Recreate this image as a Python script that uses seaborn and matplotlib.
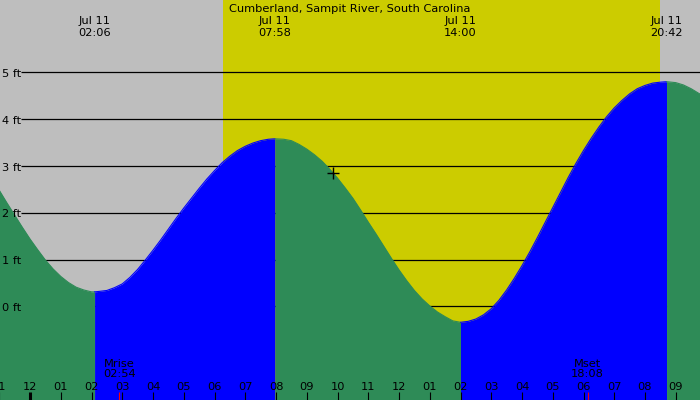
import numpy as np
import pandas as pd
import matplotlib
matplotlib.use("Agg")
import matplotlib.pyplot as plt
import matplotlib.transforms as mtransforms
import seaborn as sns

# Estilo
sns.set_theme(style="white")
plt.rcParams["font.family"] = ["DejaVu Sans"]
plt.rcParams["font.size"] = 8.2
plt.rcParams["text.color"] = "black"

# Dados (horas desde 00:00 de Jul 11, altura em pés)
titulo = "Cumberland, Sampit River, South Carolina"
horas = [-1.0, -0.75, -0.5, -0.25, 0.0, 0.25, 0.5, 0.75, 1.0, 1.25, 1.5, 1.75,
         2.0, 2.1, 2.25, 2.5, 2.75, 3.0, 3.25, 3.5, 3.75, 4.0, 4.25, 4.5, 4.75,
         5.0, 5.25, 5.5, 5.75, 6.0, 6.25, 6.5, 6.75, 7.0, 7.25, 7.5, 7.75, 7.967,
         8.25, 8.5, 8.75, 9.0, 9.25, 9.5, 9.75, 10.0, 10.25, 10.5, 10.75, 11.0,
         11.25, 11.5, 11.75, 12.0, 12.25, 12.5, 12.75, 13.0, 13.25, 13.5, 13.75,
         14.0, 14.25, 14.5, 14.75, 15.0, 15.25, 15.5, 15.75, 16.0, 16.25, 16.5,
         16.75, 17.0, 17.25, 17.5, 17.75, 18.0, 18.25, 18.5, 18.75, 19.0, 19.25,
         19.5, 19.75, 20.0, 20.25, 20.5, 20.7, 21.0, 21.25, 21.5, 21.75, 21.85]
alturas = [2.48, 2.21, 1.95, 1.69, 1.44, 1.21, 0.99, 0.80, 0.64, 0.51, 0.41, 0.35,
           0.31, 0.31, 0.32, 0.34, 0.40, 0.48, 0.62, 0.79, 0.99, 1.20, 1.42, 1.65,
           1.88, 2.10, 2.31, 2.52, 2.72, 2.90, 3.07, 3.21, 3.33, 3.42, 3.49, 3.54,
           3.57, 3.58, 3.57, 3.54, 3.46, 3.36, 3.24, 3.10, 2.93, 2.74, 2.53, 2.31,
           2.06, 1.80, 1.55, 1.29, 1.03, 0.78, 0.55, 0.34, 0.16, 0.01, -0.12, -0.22,
           -0.31, -0.34, -0.32, -0.27, -0.18, -0.05, 0.13, 0.35, 0.60, 0.87, 1.16,
           1.47, 1.79, 2.11, 2.43, 2.75, 3.05, 3.33, 3.59, 3.83, 4.05, 4.24, 4.40,
           4.54, 4.65, 4.72, 4.77, 4.79, 4.80, 4.78, 4.73, 4.65, 4.55, 4.52]

# Preamares / baixa-mares
ext_horas = [2.1, 7.967, 14.0, 20.7]
ext_rotulos = ["02:06", "07:58", "14:00", "20:42"]
data_rotulo = "Jul 11"

# Sol e lua
nascer_sol = 6.28
por_sol = 20.49
lua = [(2.9, "Mrise", "02:54"), (18.133, "Mset", "18:08")]

niveis = [0, 1, 2, 3, 4, 5]
hora_ticks = list(range(-1, 22))

cinza = "#bebebe"
amarelo = "#cccc00"
verde = "#2e8b57"
azul = "#0000ff"

df = pd.DataFrame({"hora": horas, "altura": alturas})

fig = plt.figure(figsize=(7, 4), dpi=100)
ax = fig.add_axes([0, 0, 1, 1])
ax.set_facecolor(cinza)
ax.set_xlim(-30 / 30.75, 670 / 30.75)
ax.set_ylim(-2.0, 6.545)
ax.axis("off")
fig.patch.set_facecolor(cinza)

trans = mtransforms.blended_transform_factory(ax.transData, ax.transAxes)


def py(p):
    # pixel a partir do topo -> fração do eixo
    return 1 - p / 400


# Dia
ax.axvspan(nascer_sol, por_sol, color=amarelo, zorder=0, lw=0)

# Linhas de nível (atrás da maré), rótulos por cima
for n in niveis:
    ax.hlines(n, -0.29, 30, color="black", lw=0.9, zorder=1)
    ax.text(-0.91, n - 4.6 / 46.8, f"{n} ft", ha="left", va="baseline", zorder=5)

# Segmentos de maré (enchente azul, vazante verde)
limites = [horas[0]] + ext_horas + [horas[-1]]
partes = []
for i in range(len(limites) - 1):
    a, b = limites[i], limites[i + 1]
    seg = df[(df["hora"] >= a - 1e-9) & (df["hora"] <= b + 1e-9)].copy()
    sobe = seg["altura"].iloc[-1] > seg["altura"].iloc[0]
    seg["seg"] = i
    seg["cor"] = azul if sobe else verde
    partes.append(seg)
    ax.fill_between(seg["hora"], seg["altura"], -2.5, color=seg["cor"].iloc[0],
                    lw=0, zorder=2)
linhas = pd.concat(partes, ignore_index=True)
paleta = {s: c for s, c in zip(linhas["seg"], linhas["cor"])}
sns.lineplot(data=linhas, x="hora", y="altura", hue="seg", palette=paleta,
             estimator=None, sort=True, lw=0.8, legend=False, ax=ax, zorder=3)

# Rótulos superiores
ax.text(0.5, py(11.7), titulo, transform=ax.transAxes, ha="center",
        va="baseline", zorder=5)
for h, r in zip(ext_horas, ext_rotulos):
    ax.text(h, py(24), data_rotulo, transform=trans, ha="center",
            va="baseline", zorder=5)
    ax.text(h, py(35.7), r, transform=trans, ha="center",
            va="baseline", zorder=5)

# Eixo de horas
for h in hora_ticks:
    rot = f"{(h % 12) or 12:02d}"
    ax.text(h, py(390), rot, transform=trans, ha="center", va="baseline",
            zorder=5)
    ax.vlines(h, 0, 8.3 / 400, transform=trans, color="black",
              lw=2.2 if h % 24 == 0 else 0.8, zorder=5)

# Lua
for h, nome, hh in lua:
    ax.vlines(h, 0, 8.3 / 400, transform=trans, color="red", lw=0.8, zorder=5)
    ax.text(h, py(366.7), nome, transform=trans, ha="center", va="baseline",
            zorder=5)
    ax.text(h, py(377.3), hh, transform=trans, ha="center", va="baseline",
            zorder=5)

# Marcador da hora atual
ax.plot(9.86, 2.84, marker="+", color="black", ms=8, mew=1, zorder=6)

fig.savefig("out.png", dpi=100, facecolor=cinza)
